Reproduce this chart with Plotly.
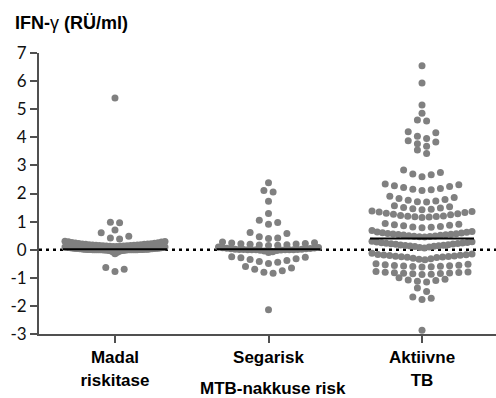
import plotly.graph_objects as go

# ---------------- data ----------------
categories = ["Madal<br>riskitase", "Segarisk", "Aktiivne<br>TB"]

low_risk = [
    -0.78, -0.70, -0.63,
    -0.14, -0.10, -0.08, -0.06, -0.05, -0.04, -0.03, -0.03, -0.02, -0.02, -0.01, -0.01, -0.01,
    0.00, 0.00, 0.00, 0.00, 0.00, 0.00, 0.00, 0.00, 0.00, 0.00, 0.00, 0.00,
    0.01, 0.01, 0.01, 0.01, 0.01, 0.01, 0.02, 0.02, 0.02, 0.02, 0.02, 0.03, 0.03, 0.03, 0.03,
    0.04, 0.04, 0.04, 0.05, 0.05, 0.05, 0.06, 0.06, 0.07, 0.07, 0.08, 0.08, 0.09, 0.10, 0.10,
    0.11, 0.11, 0.12, 0.12, 0.13, 0.13, 0.14, 0.14, 0.15, 0.15, 0.16, 0.16,
    0.17, 0.17, 0.18, 0.18, 0.19, 0.19, 0.20, 0.20, 0.21, 0.22, 0.23, 0.24, 0.25, 0.26,
    0.27, 0.28, 0.29, 0.30,
    0.38, 0.42, 0.48, 0.60,
    0.70,
    0.96, 0.98,
    5.40,
]

mixed_risk = [
    -2.14,
    -0.84, -0.80, -0.75, -0.70, -0.65, -0.60,
    -0.49, -0.45, -0.42, -0.38, -0.35, -0.32, -0.29, -0.27, -0.25,
    -0.10, -0.07, -0.05, -0.03, -0.02, -0.01, 0.00, 0.00, 0.00, 0.00, 0.00, 0.00,
    0.01, 0.01, 0.01, 0.02, 0.02, 0.03, 0.03, 0.04, 0.05, 0.06, 0.07, 0.08, 0.10,
    0.15, 0.16, 0.17, 0.18, 0.19, 0.20, 0.21, 0.22, 0.24, 0.25, 0.27,
    0.40, 0.42, 0.46, 0.58, 0.61,
    0.91, 0.97, 1.05,
    1.29,
    1.72,
    2.05, 2.11,
    2.38,
]

active_tb = [
    -2.87,
    -1.77, -1.73, -1.68,
    -1.49, -1.36,
    -1.15, -1.12, -1.10, -1.08, -1.05, -1.00,
    -0.88, -0.87, -0.86, -0.85, -0.84, -0.83, -0.82, -0.81, -0.80, -0.79, -0.78,
    -0.62, -0.61, -0.60, -0.59, -0.58, -0.57, -0.56, -0.55, -0.54, -0.52, -0.50,
    -0.36, -0.34, -0.32, -0.30, -0.28, -0.27, -0.26, -0.25, -0.24, -0.23, -0.22, -0.21,
    -0.20, -0.19, -0.18, -0.17, -0.15, -0.13,
    0.06, 0.08, 0.10, 0.11, 0.12, 0.13, 0.14, 0.15, 0.16, 0.17, 0.18, 0.19, 0.20, 0.21,
    0.22, 0.23, 0.24, 0.25, 0.26, 0.27, 0.28, 0.30,
    0.45, 0.46, 0.47, 0.48, 0.49, 0.50, 0.51, 0.52, 0.53, 0.54, 0.55, 0.56, 0.57, 0.58,
    0.59, 0.60, 0.62, 0.63, 0.65, 0.68,
    0.78, 0.80, 0.81, 0.83, 0.85, 0.87, 0.89, 0.91, 0.93,
    1.15, 1.16, 1.17, 1.18, 1.19, 1.20, 1.22, 1.24, 1.26, 1.28, 1.30, 1.32, 1.34, 1.36, 1.38,
    1.42, 1.44, 1.46, 1.48, 1.50, 1.53, 1.56,
    1.70, 1.71, 1.73, 1.76, 1.79, 1.82, 1.86, 1.90,
    2.11, 2.13, 2.15, 2.18, 2.21, 2.25, 2.28, 2.31, 2.34,
    2.60, 2.67, 2.69, 2.75, 2.84,
    3.42, 3.55,
    3.68, 3.77, 3.83, 3.88,
    3.96, 4.04, 4.16, 4.20,
    4.58, 4.62,
    4.86,
    5.15,
    5.93,
    6.55,
]

medians = [0.02, 0.02, 0.40]
y_ticks = [-3, -2, -1, 0, 1, 2, 3, 4, 5, 6, 7]

# ---------------- layout constants ----------------
W, H = 496, 398
M_L, M_R, M_T, M_B = 39, 0, 53, 64
X_MIN, X_MAX = -0.495, 2.482
PX_PER_UNIT = (W - M_L - M_R) / (X_MAX - X_MIN)
DOT_STEP = 9.2      # px between neighbouring dots in a row
MAX_WIDTH = 100.0   # px, widest row
ROW_BAND = 0.25     # data units grouped into one row
DOT_COLOR = "rgb(128,128,128)"


def swarm(values, center):
    vals = sorted(values)
    rows = []
    for v in vals:
        if rows and v - rows[-1][0] < ROW_BAND:
            rows[-1].append(v)
        else:
            rows.append([v])
    xs, ys = [], []
    for row in rows:
        n = len(row)
        step = DOT_STEP
        if n > 1 and (n - 1) * step > MAX_WIDTH:
            step = MAX_WIDTH / (n - 1)
        for i, v in enumerate(row):
            if n % 2 == 1:
                k = ((i + 1) // 2) * (1 if i % 2 == 1 else -1)
            else:
                k = (i // 2 + 0.5) * (1 if i % 2 == 0 else -1)
            xs.append(center + k * step / PX_PER_UNIT)
            ys.append(v)
    return xs, ys


fig = go.Figure()
for gi, data in enumerate([low_risk, mixed_risk, active_tb]):
    xs, ys = swarm(data, gi)
    fig.add_trace(go.Scatter(
        x=xs, y=ys, mode="markers",
        marker=dict(size=7, color=DOT_COLOR, line=dict(width=0)),
        showlegend=False, hoverinfo="y", cliponaxis=False,
    ))

# zero reference line (dotted)
fig.add_shape(type="line", xref="paper", x0=0, x1=1, yref="y", y0=0, y1=0,
              line=dict(color="black", width=2.5, dash="3px,4px"), layer="below")

# median lines
HALF = 52 / PX_PER_UNIT
for gi, m in enumerate(medians):
    fig.add_shape(type="line", xref="x", yref="y", x0=gi - HALF, x1=gi + HALF, y0=m, y1=m,
                  line=dict(color="black", width=2), layer="above")

axis_col = "#505050"
fig.update_layout(
    width=W, height=H,
    margin=dict(l=M_L, r=M_R, t=M_T, b=M_B, pad=0),
    paper_bgcolor="white", plot_bgcolor="white",
    xaxis=dict(
        range=[X_MIN, X_MAX], tickvals=[0, 1, 2],
        ticktext=["<b>" + c.replace("<br>", "</b><br><b>") + "</b>" for c in categories],
        showgrid=False, zeroline=False, showline=True, linecolor=axis_col, linewidth=2,
        ticks="outside", ticklen=7, tickwidth=1.5, tickcolor=axis_col,
        tickfont=dict(family="Liberation Sans, Arial", size=17, color="black"),
    ),
    yaxis=dict(
        range=[-3, 7], tickvals=y_ticks, ticktext=[str(t) for t in y_ticks],
        showgrid=False, zeroline=False, showline=True, linecolor=axis_col, linewidth=2,
        ticks="outside", ticklen=7, tickwidth=1.5, tickcolor=axis_col,
        tickfont=dict(family="Lato, DejaVu Sans", size=17, color="#111"),
    ),
    annotations=[
        dict(text="<b>IFN-</b>γ<b> (RÜ/ml)</b>", xref="paper", yref="paper",
             x=(13 - M_L) / (W - M_L - M_R), y=(H - M_B - 23) / (H - M_T - M_B),
             xanchor="left", yanchor="middle", showarrow=False,
             font=dict(family="Liberation Sans, Arial", size=18, color="black")),
        dict(text="<b>MTB-nakkuse risk</b>", xref="paper", yref="paper",
             x=(272.5 - M_L) / (W - M_L - M_R), y=(H - M_B - 388.5) / (H - M_T - M_B),
             xanchor="center", yanchor="middle", showarrow=False,
             font=dict(family="Liberation Sans, Arial", size=17, color="black")),
    ],
)

fig.write_html("out.html")
